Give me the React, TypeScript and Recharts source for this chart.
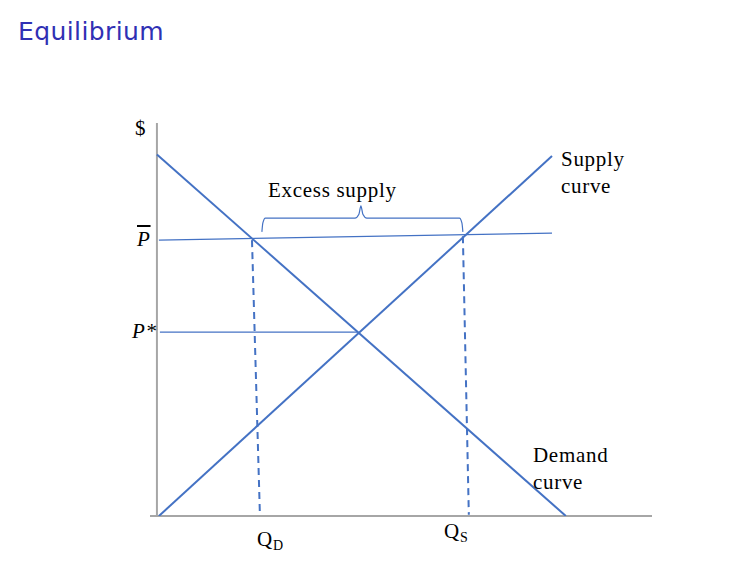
import React from "react";
import { ComposedChart, Line, XAxis, YAxis, ReferenceLine } from "recharts";

// quantity (q) and price (p) in arbitrary chart units, origin at the axes corner
const demandCurve = [
  { q: 0, p: 92 },
  { q: 82.6, p: 0 },
];
const supplyCurve = [
  { q: 0.4, p: 0 },
  { q: 79.8, p: 91.6 },
];
const priceFloorLine = [
  { q: 0.4, p: 70.2 },
  { q: 79.8, p: 72.0 },
];
const equilibriumPriceLine = [
  { q: 0.6, p: 46.8 },
  { q: 40.4, p: 46.8 },
];
const qdDrop = [
  { q: 19.2, p: 70.2 },
  { q: 20.8, p: 0.3 },
];
const qsDrop = [
  { q: 61.8, p: 71.2 },
  { q: 63.0, p: 0.3 },
];
const excessBrace = [
  { q: 21.2, p: 72.3 },
  { q: 21.4, p: 74.6 },
  { q: 21.9, p: 75.8 },
  { q: 40.0, p: 75.8 },
  { q: 40.8, p: 76.8 },
  { q: 41.2, p: 78.9 },
  { q: 41.6, p: 76.8 },
  { q: 42.4, p: 75.8 },
  { q: 61.1, p: 75.8 },
  { q: 61.6, p: 74.6 },
  { q: 61.8, p: 72.3 },
];

const BLUE = "#4472C4";
const AXIS = "#a6a6a6";
const serif = "'Liberation Serif', 'Times New Roman', serif";

const txt = (left: number, top: number, size: number, extra: React.CSSProperties = {}): React.CSSProperties => ({
  position: "absolute",
  left,
  top,
  fontSize: size,
  fontFamily: serif,
  color: "#000",
  lineHeight: 1,
  whiteSpace: "nowrap",
  letterSpacing: 0.7,
  ...extra,
});

export default function App() {
  return (
    <div style={{ position: "absolute", left: 0, top: 0, width: 756, height: 567, background: "#fff" }}>
      <div
        style={{
          position: "absolute",
          left: 18,
          top: 19,
          fontSize: 25,
          fontFamily: "'DejaVu Sans', sans-serif",
          color: "#3030b4",
          lineHeight: 1,
          letterSpacing: 0.4,
        }}
      >
        Equilibrium
      </div>

      <ComposedChart width={756} height={567} margin={{ top: 123, right: 104, bottom: 51, left: 150 }}>
        <XAxis type="number" dataKey="q" domain={[-1.4, 100]} hide allowDataOverflow />
        <YAxis type="number" dataKey="p" domain={[0, 100]} hide allowDataOverflow />
        <ReferenceLine segment={[{ x: 0, y: 0 }, { x: 0, y: 100 }]} stroke={AXIS} strokeWidth={2} />
        <ReferenceLine segment={[{ x: -1.4, y: 0 }, { x: 100, y: 0 }]} stroke={AXIS} strokeWidth={2} />
        <Line data={priceFloorLine} dataKey="p" stroke={BLUE} strokeWidth={1.2} dot={false} isAnimationActive={false} />
        <Line data={equilibriumPriceLine} dataKey="p" stroke={BLUE} strokeWidth={1.2} dot={false} isAnimationActive={false} />
        <Line data={qdDrop} dataKey="p" stroke={BLUE} strokeWidth={2} strokeDasharray="7 5" dot={false} isAnimationActive={false} />
        <Line data={qsDrop} dataKey="p" stroke={BLUE} strokeWidth={2} strokeDasharray="7 5" dot={false} isAnimationActive={false} />
        <Line data={demandCurve} dataKey="p" stroke={BLUE} strokeWidth={2} dot={false} isAnimationActive={false} />
        <Line data={supplyCurve} dataKey="p" stroke={BLUE} strokeWidth={2} dot={false} isAnimationActive={false} />
        <Line data={excessBrace} dataKey="p" type="monotone" stroke={BLUE} strokeWidth={1.2} dot={false} isAnimationActive={false} />
      </ComposedChart>

      <div style={txt(135, 118, 21)}>$</div>
      <div style={txt(137, 229, 21, { fontStyle: "italic" })}>
        <span style={{ textDecoration: "overline" }}>P</span>
      </div>
      <div style={txt(132, 321, 21, { fontStyle: "italic" })}>P*</div>
      <div style={txt(268, 180, 21)}>Excess supply</div>
      <div style={txt(561, 149, 21)}>Supply</div>
      <div style={txt(561, 176, 21)}>curve</div>
      <div style={txt(533, 445, 21)}>Demand</div>
      <div style={txt(533, 472, 21)}>curve</div>
      <div style={txt(257, 529, 21)}>
        Q<span style={{ fontSize: 14, position: "relative", top: 4 }}>D</span>
      </div>
      <div style={txt(444, 521, 21)}>
        Q<span style={{ fontSize: 14, position: "relative", top: 4 }}>S</span>
      </div>
    </div>
  );
}
